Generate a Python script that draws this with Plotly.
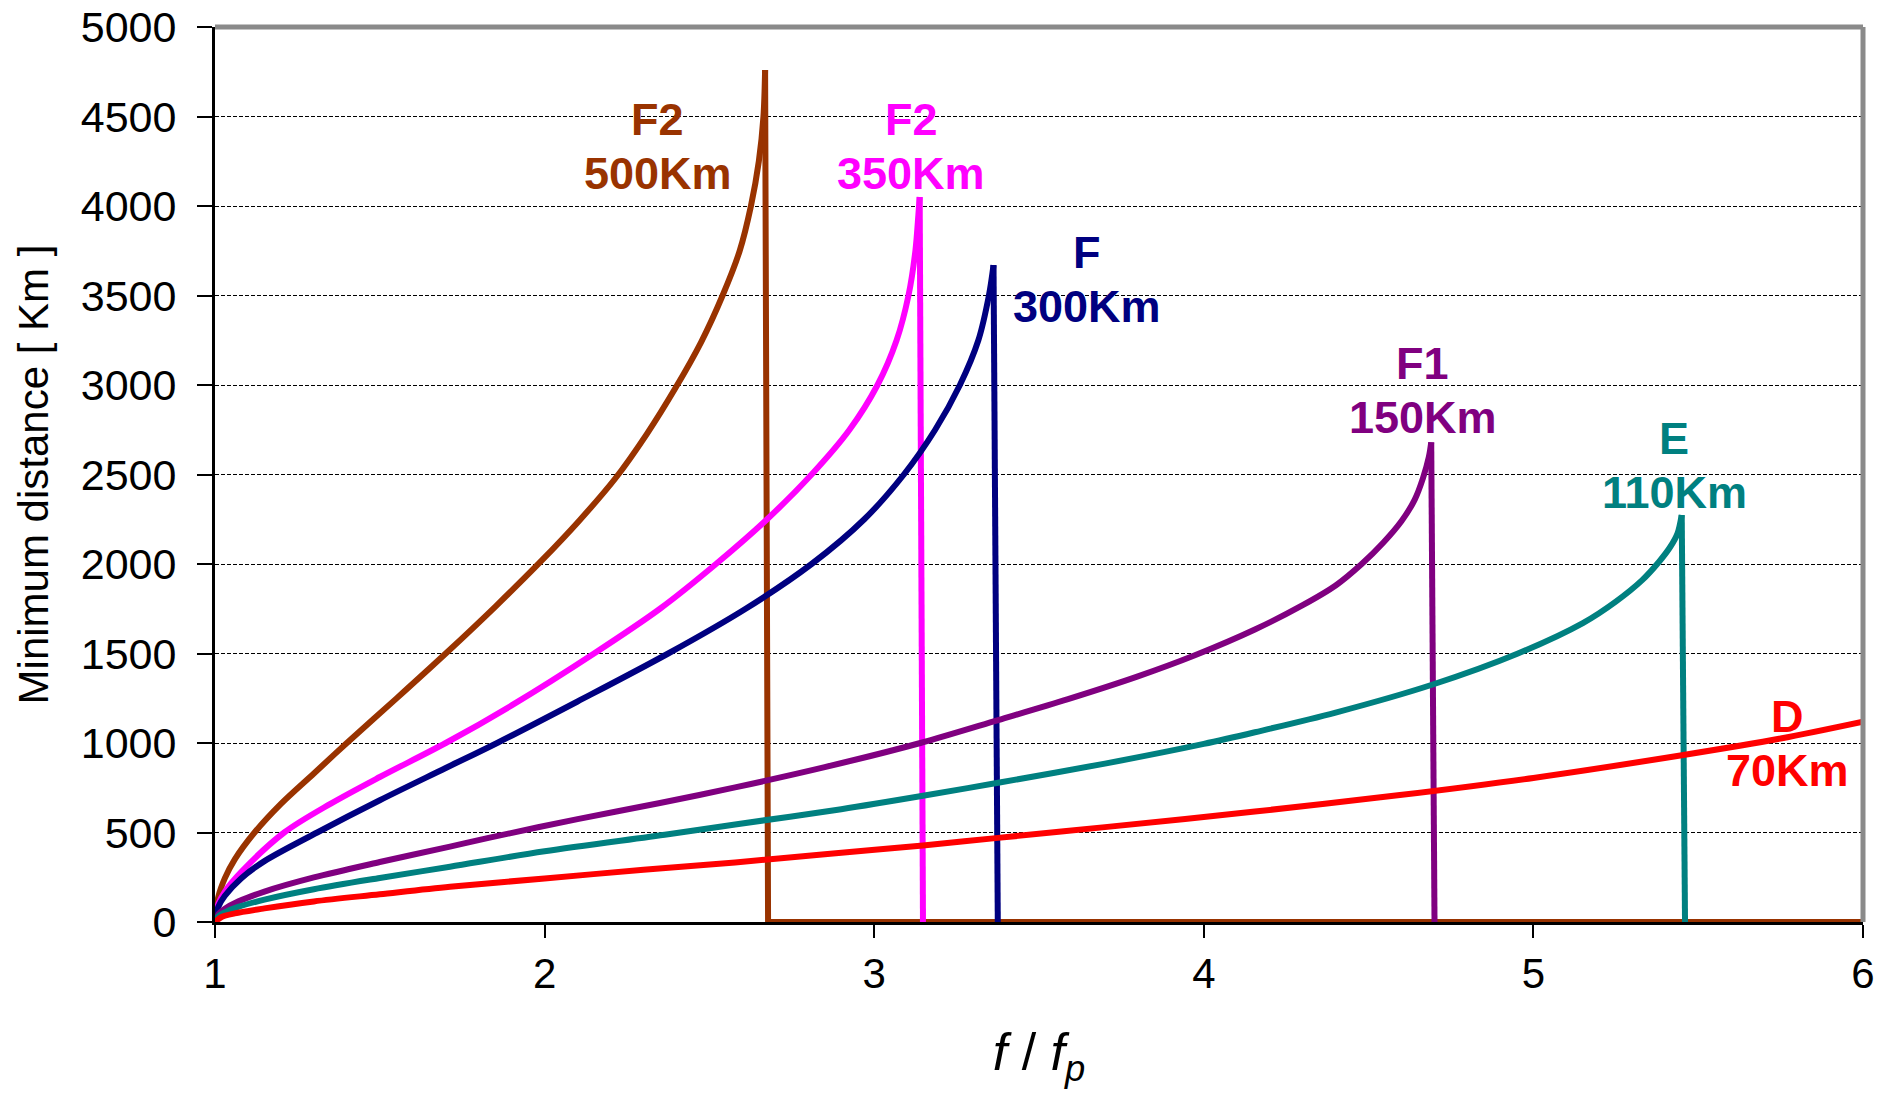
import plotly.graph_objects as go

# ---- data (x = f/fp, y = minimum distance in km) ----
f2_500_x = [1.0, 1.01, 1.03, 1.06, 1.12, 1.2, 1.3, 1.4, 1.55, 1.7, 1.85, 1.99, 2.105, 2.215,
            2.31, 2.397, 2.475, 2.54, 2.592, 2.626, 2.65, 2.664, 2.669]
f2_500_y = [0, 140, 245, 350, 500, 660, 830, 1000, 1248, 1500, 1761, 2017, 2242, 2479,
            2726, 2983, 3240, 3500, 3750, 4000, 4250, 4500, 4760]
f2_500_cut = 2.678

f2_350_x = [1.0, 1.01, 1.03, 1.08, 1.21, 1.35, 1.5, 1.7, 1.9, 2.15, 2.35, 2.52, 2.675,
            2.81, 2.925, 3.01, 3.068, 3.104, 3.125, 3.134, 3.138]
f2_350_y = [0, 100, 170, 280, 500, 660, 810, 1000, 1210, 1500, 1750, 2000, 2250,
            2500, 2750, 3000, 3250, 3500, 3750, 3950, 4050]
f2_350_cut = 3.148

f_300_x = [1.0, 1.01, 1.03, 1.08, 1.15, 1.31, 1.5, 1.7, 1.859, 2.1, 2.375, 2.61, 2.81,
           2.97, 3.09, 3.185, 3.26, 3.316, 3.348, 3.362]
f_300_y = [0, 85, 147, 245, 340, 500, 680, 860, 1003, 1232, 1500, 1750, 2000,
           2250, 2500, 2750, 3000, 3250, 3500, 3670]
f_300_cut = 3.375

f1_150_x = [1.0, 1.01, 1.03, 1.07, 1.15, 1.3, 1.5, 1.713, 1.83, 2.1, 2.35, 2.578, 2.85,
            3.14, 3.376, 3.588, 3.8, 3.973, 4.155, 4.3, 4.4, 4.479, 4.545, 4.6, 4.64,
            4.665, 4.683, 4.69]
f1_150_y = [0, 43, 74, 114, 170, 249, 335, 421, 470, 575, 665, 752, 865,
            1000, 1128, 1245, 1372, 1490, 1634, 1770, 1880, 2000, 2120, 2240, 2360,
            2480, 2600, 2680]
f1_150_cut = 4.70

e_110_x = [1.0, 1.01, 1.03, 1.07, 1.15, 1.3, 1.5, 1.713, 2.0, 2.375, 2.578, 2.9, 3.148,
           3.376, 3.7, 4.0, 4.155, 4.4, 4.69, 4.953, 5.15, 5.25, 5.33, 5.38, 5.415, 5.437, 5.45]
e_110_y = [0, 31, 54, 84, 125, 183, 246, 309, 395, 490, 545, 630, 705,
           778, 885, 995, 1060, 1170, 1324, 1500, 1670, 1790, 1910, 2010, 2095, 2170, 2274]
e_110_cut = 5.46

d_70_x = [1.0, 1.02, 1.06, 1.15, 1.3, 1.5, 1.713, 2.0, 2.3, 2.578, 2.85, 3.148, 3.376,
          3.7, 4.155, 4.595, 5.0, 5.455, 5.75, 6.0]
d_70_y = [0, 28, 48, 76, 115, 155, 197, 243, 292, 333, 378, 428, 470,
          530, 617, 709, 805, 933, 1025, 1119]

x_ticks = [1, 2, 3, 4, 5, 6]
y_ticks = [0, 500, 1000, 1500, 2000, 2500, 3000, 3500, 4000, 4500, 5000]

# layer label lines and label anchor positions (data coordinates, centre of the two lines)
label_top = ["F2", "F2", "F", "F1", "E", "D"]
label_bottom = ["500Km", "350Km", "300Km", "150Km", "110Km", "70Km"]
label_x = [2.344, 3.112, 3.646, 4.665, 5.427, 5.77]
label_y = [4330, 4330, 3592, 2969, 2553, 1000]

colors = ["#993300", "#FF00FF", "#000080", "#800080", "#008080", "#FF0000"]

layers = [
    (f2_500_x, f2_500_y, f2_500_cut, colors[0]),
    (f2_350_x, f2_350_y, f2_350_cut, colors[1]),
    (f_300_x, f_300_y, f_300_cut, colors[2]),
    (f1_150_x, f1_150_y, f1_150_cut, colors[3]),
    (e_110_x, e_110_y, e_110_cut, colors[4]),
    (d_70_x, d_70_y, None, colors[5]),
]

LW = 6
fig = go.Figure()
for i, (xs, ys, cut, col) in enumerate(layers):
    fig.add_trace(go.Scatter(x=xs, y=ys, mode="lines",
                             line=dict(color=col, width=LW, shape="spline", smoothing=0.9),
                             showlegend=False, hoverinfo="skip"))
    if cut is not None:
        dx = [xs[-1], cut]
        dy = [ys[-1], 0]
        if i == 0:
            dx.append(6.0)
            dy.append(0)
        fig.add_trace(go.Scatter(x=dx, y=dy, mode="lines",
                                 line=dict(color=col, width=LW),
                                 showlegend=False, hoverinfo="skip"))

font = "Liberation Sans, Arial"
for top, bot, lx, ly, col in zip(label_top, label_bottom, label_x, label_y, colors):
    for txt, shift in ((top, 27), (bot, -27)):
        fig.add_annotation(x=lx, y=ly, xref="x", yref="y", text="<b>" + txt + "</b>",
                           yshift=shift, showarrow=False,
                           font=dict(size=45, color=col, family=font))

fig.update_layout(
    width=1879, height=1098, autosize=False,
    margin=dict(l=215, r=16, t=27, b=176, pad=0, autoexpand=False),
    paper_bgcolor="white", plot_bgcolor="white",
    showlegend=False,
    font=dict(family=font, color="black"),
    xaxis=dict(range=[1, 6], tickvals=x_ticks, ticktext=[str(v) for v in x_ticks],
               showgrid=False, zeroline=False, showline=True, linecolor="black", linewidth=3,
               ticks="outside", ticklen=13, tickwidth=2, tickcolor="black",
               tickfont=dict(size=42, family=font), ticklabelstandoff=0,
               ticklabeloverflow="allow", layer="below traces", automargin=False,
               title=dict(text="<i>f</i> / <i>f<sub>p</sub></i>", font=dict(size=52, family=font),
                          standoff=38)),
    yaxis=dict(range=[0, 5000], tickvals=y_ticks, ticktext=[str(v) for v in y_ticks],
               showgrid=True, gridcolor="black", gridwidth=1, griddash="4px,2px",
               zeroline=False, showline=True, linecolor="black", linewidth=3,
               ticks="outside", ticklen=15, tickwidth=2, tickcolor="black",
               tickfont=dict(size=43, family=font), ticklabelstandoff=12,
               ticklabeloverflow="allow", layer="below traces", automargin=False,
               title=dict(text="Minimum distance [ Km ]", font=dict(size=42, family=font),
                          standoff=20)),
)

# grey top and right frame lines of the plot area
fig.add_shape(type="line", xref="paper", yref="paper", x0=0, x1=1, y0=1, y1=1,
              line=dict(color="#8a8a8a", width=5))
fig.add_shape(type="line", xref="paper", yref="paper", x0=1, x1=1, y0=0, y1=1,
              line=dict(color="#8a8a8a", width=5))

fig.write_html("out.html", config={"displayModeBar": False},
               post_script="document.body.style.margin='0';")
